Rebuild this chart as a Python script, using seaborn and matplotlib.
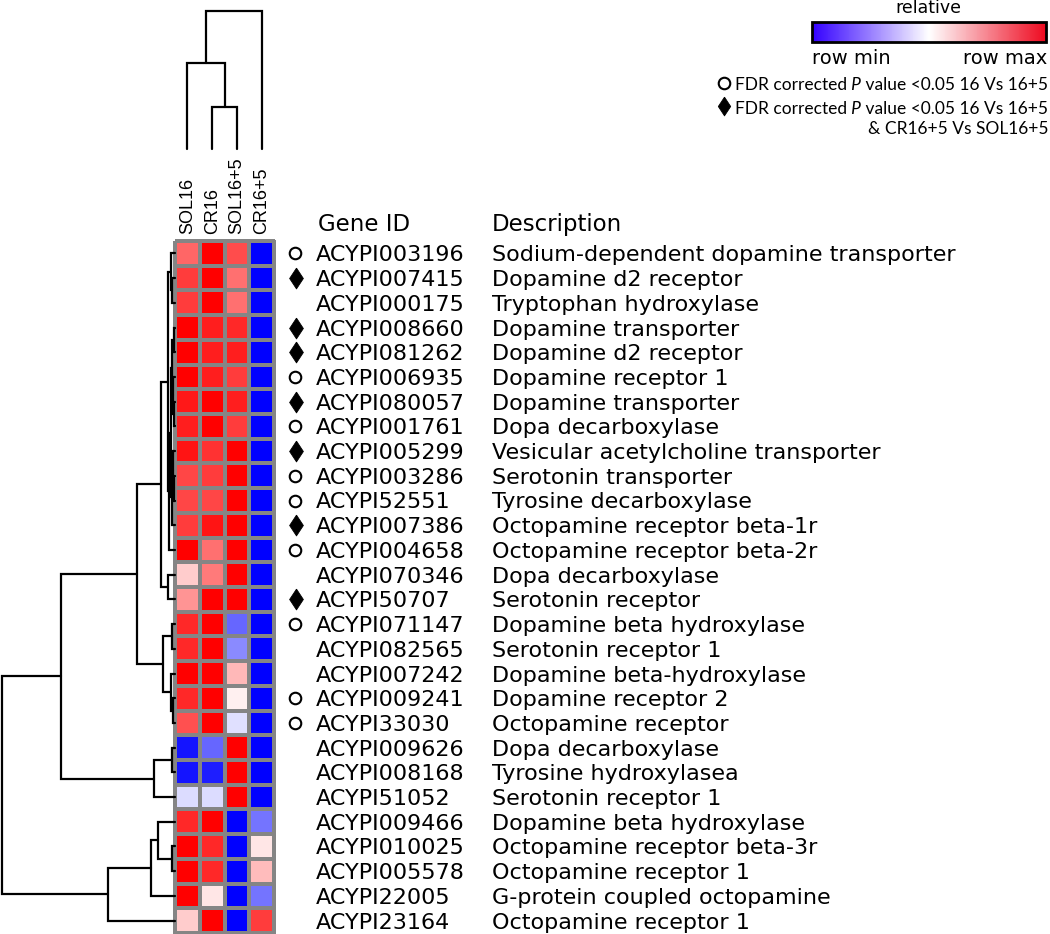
import numpy as np
import pandas as pd
import matplotlib
matplotlib.use("Agg")
import matplotlib.pyplot as plt
import seaborn as sns
from matplotlib.colors import LinearSegmentedColormap, Normalize
from matplotlib.cm import ScalarMappable

# -----------------------------
# data
# -----------------------------
samples = ["SOL16", "CR16", "SOL16+5", "CR16+5"]

gene_ids = ["ACYPI003196", "ACYPI007415", "ACYPI000175", "ACYPI008660",
            "ACYPI081262", "ACYPI006935", "ACYPI080057", "ACYPI001761",
            "ACYPI005299", "ACYPI003286", "ACYPI52551", "ACYPI007386",
            "ACYPI004658", "ACYPI070346", "ACYPI50707", "ACYPI071147",
            "ACYPI082565", "ACYPI007242", "ACYPI009241", "ACYPI33030",
            "ACYPI009626", "ACYPI008168", "ACYPI51052", "ACYPI009466",
            "ACYPI010025", "ACYPI005578", "ACYPI22005", "ACYPI23164"]

descriptions = ["Sodium-dependent dopamine transporter", "Dopamine d2 receptor",
                "Tryptophan hydroxylase", "Dopamine transporter",
                "Dopamine d2 receptor", "Dopamine receptor 1",
                "Dopamine transporter", "Dopa decarboxylase",
                "Vesicular acetylcholine transporter", "Serotonin transporter",
                "Tyrosine decarboxylase", "Octopamine receptor beta-1r",
                "Octopamine receptor beta-2r", "Dopa decarboxylase",
                "Serotonin receptor", "Dopamine beta hydroxylase",
                "Serotonin receptor 1", "Dopamine beta-hydroxylase",
                "Dopamine receptor 2", "Octopamine receptor",
                "Dopa decarboxylase", "Tyrosine hydroxylasea",
                "Serotonin receptor 1", "Dopamine beta hydroxylase",
                "Octopamine receptor beta-3r", "Octopamine receptor 1",
                "G-protein coupled octopamine", "Octopamine receptor 1"]

# "o" = FDR < 0.05 16 vs 16+5, "D" = also CR16+5 vs SOL16+5
marks = ["o", "D", "", "D", "D", "o", "D", "o", "D", "o", "o", "D", "o", "",
         "D", "o", "", "", "o", "o", "", "", "", "", "", "", "", ""]

# relative expression, 0 = row min, 1 = row max
sol16 = [0.80, 0.88, 0.88, 1.00, 1.00, 1.00, 0.95, 0.94, 0.96, 0.86, 0.86, 0.88,
         1.00, 0.60, 0.71, 0.92, 0.92, 1.00, 0.92, 0.84, 0.04, 0.04, 0.43, 0.92,
         1.00, 1.00, 1.00, 0.60]
cr16 = [1.00, 1.00, 1.00, 0.94, 0.94, 0.94, 1.00, 1.00, 0.90, 0.88, 0.86, 0.96,
        0.78, 0.76, 1.00, 1.00, 1.00, 1.00, 1.00, 1.00, 0.20, 0.06, 0.43, 1.00,
        0.92, 0.92, 0.55, 1.00]
sol16_5 = [0.85, 0.78, 0.78, 0.92, 0.94, 0.88, 0.94, 0.88, 1.00, 1.00, 1.00, 1.00,
           1.00, 1.00, 1.00, 0.20, 0.27, 0.64, 0.53, 0.44, 1.00, 1.00, 1.00, 0.00,
           0.00, 0.00, 0.00, 0.00]
cr16_5 = [0.00, 0.00, 0.00, 0.00, 0.00, 0.00, 0.00, 0.00, 0.00, 0.00, 0.00, 0.00,
          0.00, 0.00, 0.00, 0.00, 0.00, 0.00, 0.00, 0.00, 0.00, 0.00, 0.00, 0.23,
          0.55, 0.63, 0.23, 0.88]

# linkage (child a, child b, distance); leaves 0..n-1, merged nodes n, n+1, ...
row_links = [(1, 2, 3.0), (0, 28, 4.3), (3, 4, 1.5), (6, 7, 1.2), (5, 31, 2.0),
             (30, 32, 2.8), (9, 10, 1.0), (8, 34, 2.2), (35, 11, 3.0),
             (33, 36, 3.8), (37, 12, 6.4), (29, 38, 6.7), (13, 14, 7.0),
             (39, 40, 14.0), (15, 16, 3.3), (18, 19, 2.3), (17, 43, 4.3),
             (42, 44, 12.0), (41, 45, 38.0), (20, 21, 3.3), (47, 22, 21.0),
             (46, 48, 114.0), (24, 25, 3.3), (23, 50, 16.7), (51, 26, 24.0),
             (52, 27, 67.0), (49, 53, 173.0)]
col_links = [(1, 2, 42.0), (0, 4, 86.0), (5, 3, 138.0)]

df = pd.DataFrame({"SOL16": sol16, "CR16": cr16, "SOL16+5": sol16_5,
                   "CR16+5": cr16_5}, index=gene_ids)[samples]

# -----------------------------
# helpers
# -----------------------------
W, H = 1050, 934


def px_rect(x, y, w, h):
    return [x / W, 1 - (y + h) / H, w / W, h / H]


def dendro_segments(links, n):
    pos = {i: i + 0.5 for i in range(n)}
    hgt = {i: 0.0 for i in range(n)}
    segs = []
    for k, (a, b, d) in enumerate(links):
        segs.append(([hgt[a], d, d, hgt[b]], [pos[a], pos[a], pos[b], pos[b]]))
        pos[n + k] = (pos[a] + pos[b]) / 2
        hgt[n + k] = d
    return segs


sns.set_style("white")
plt.rcParams["font.family"] = ["DejaVu Sans"]
plt.rcParams["text.color"] = "black"

cmap = LinearSegmentedColormap.from_list("rowscale", ["#0000ff", "#ffffff", "#ff0000"])
cmap_bar = LinearSegmentedColormap.from_list("rowbar", ["#3300ff", "#ffffff", "#ee0a20"])

fig = plt.figure(figsize=(W / 100, H / 100), dpi=100)

# overlay for legend text (pixel layout)
lax = fig.add_axes([0, 0, 1, 1])
lax.set_xlim(0, W)
lax.set_ylim(H, 0)
lax.axis("off")

# -----------------------------
# heatmap
# -----------------------------
n_rows = len(gene_ids)
ax = fig.add_axes(px_rect(175, 241, 99, 692))
sns.heatmap(df, ax=ax, cmap=cmap, vmin=0, vmax=1, cbar=False,
            linewidths=1.5, linecolor="#858585", xticklabels=True,
            yticklabels=False)
ax.collections[0].set_clip_on(False)
ax.tick_params(axis="x", top=True, labeltop=True, bottom=False,
               labelbottom=False, length=0, pad=5, labelrotation=90,
               labelcolor="black")
for lbl in ax.xaxis.get_ticklabels():
    lbl.set_fontfamily("Liberation Sans")
    lbl.set_fontsize(13)
ax.set_xlabel("")
ax.set_ylabel("")

# -----------------------------
# row dendrogram
# -----------------------------
rax = fig.add_axes(px_rect(0, 241, 175, 692))
for xs, ys in dendro_segments(row_links, n_rows):
    rax.plot(xs, ys, color="black", lw=1.6, clip_on=False,
             solid_joinstyle="miter")
rax.set_xlim(175, 0)
rax.set_ylim(n_rows, 0)
rax.axis("off")

# -----------------------------
# column dendrogram
# -----------------------------
cax_d = fig.add_axes(px_rect(175, 8, 99, 141))
for xs, ys in dendro_segments(col_links, len(samples)):
    cax_d.plot(ys, xs, color="black", lw=1.6, clip_on=False,
               solid_joinstyle="miter")
cax_d.set_xlim(0, len(samples))
cax_d.set_ylim(0, 141)
cax_d.axis("off")

# -----------------------------
# gene labels
# -----------------------------
tax = fig.add_axes(px_rect(280, 241, 770, 692))
tax.set_xlim(280, 1050)
tax.set_ylim(n_rows, 0)
tax.axis("off")

diamond = [(0, 1), (0.66, 0), (0, -1), (-0.66, 0), (0, 1)]
tax.text(318, -0.75, "Gene ID", fontsize=16.5, ha="left", va="center_baseline")
tax.text(492, -0.75, "Description", fontsize=16.5, ha="left", va="center_baseline")
for i, (gid, desc, m) in enumerate(zip(gene_ids, descriptions, marks)):
    y = i + 0.5
    tax.text(316, y, gid, fontsize=16, ha="left", va="center_baseline")
    tax.text(492, y, desc, fontsize=16, ha="left", va="center_baseline")
    if m == "o":
        tax.plot(295, y, marker="o", ms=8.3, mfc="white", mec="black",
                 mew=1.5, clip_on=False)
    elif m == "D":
        tax.plot(295.5, y, marker=diamond, ms=15, mfc="black", mec="black",
                 mew=0.6, clip_on=False)

# -----------------------------
# colour key + legend
# -----------------------------
cbax = fig.add_axes(px_rect(812, 22, 234, 20))
cb = fig.colorbar(ScalarMappable(norm=Normalize(0, 1), cmap=cmap_bar),
                  cax=cbax, orientation="horizontal", ticks=[])
cb.outline.set_linewidth(2)
cb.outline.set_edgecolor("black")

lax.text(928, 13.3, "relative", fontsize=12.5, ha="center", va="baseline")
lax.text(812, 64, "row min", fontsize=14, ha="left", va="baseline")
lax.text(1047, 64, "row max", fontsize=14, ha="right", va="baseline")

leg_font = dict(fontfamily="Lato", fontsize=12.5, color="black")
first_parts = []
for y_line in [84, 107]:
    t3 = lax.text(1048, y_line, " value <0.05 16 Vs 16+5", ha="right",
                  va="center_baseline", **leg_font)
    t2 = lax.annotate(" P", xy=(0, 0), xycoords=t3, ha="right", va="bottom",
                      fontstyle="italic", **leg_font)
    t1 = lax.annotate("FDR corrected", xy=(0, 0), xycoords=t2, ha="right",
                      va="bottom", **leg_font)
    first_parts.append((t1, y_line))
lax.text(1048, 127, "& CR16+5 Vs SOL16+5", ha="right", va="center_baseline",
         **leg_font)

fig.canvas.draw()
inv = lax.transData.inverted()
for (t1, y_line), m in zip(first_parts, ["o", "D"]):
    bb = t1.get_window_extent()
    x0 = inv.transform((bb.x0, bb.y0))[0]
    if m == "o":
        lax.plot(x0 - 11, y_line - 1, marker="o", ms=8.3, mfc="white",
                 mec="black", mew=1.5)
    else:
        lax.plot(x0 - 11, y_line - 1, marker=diamond, ms=13.5, mfc="black",
                 mec="black", mew=0.6)

fig.savefig("out.png", dpi=100)
